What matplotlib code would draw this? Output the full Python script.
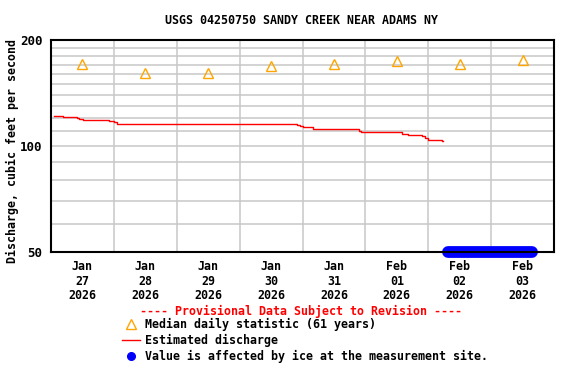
import matplotlib
matplotlib.use("Agg")
import matplotlib.pyplot as plt
from matplotlib.lines import Line2D
from matplotlib.ticker import FixedLocator, NullFormatter, NullLocator
import numpy as np

# ---- data ----
title = "USGS 04250750 SANDY CREEK NEAR ADAMS NY"
day_labels = ["Jan\n27\n2026", "Jan\n28\n2026", "Jan\n29\n2026", "Jan\n30\n2026",
              "Jan\n31\n2026", "Feb\n01\n2026", "Feb\n02\n2026", "Feb\n03\n2026"]
# median daily statistic (one per day, plotted at noon)
median_days = [0.5, 1.5, 2.5, 3.5, 4.5, 5.5, 6.5, 7.5]
median_vals = [171, 161, 161, 169, 171, 174, 171, 176]
# estimated discharge (days since Jan 27 00:00, cfs)
q_days = [0.05, 0.10, 0.19, 0.41, 0.45, 0.51, 0.93, 1.00, 1.05, 3.91, 3.96, 4.01,
          4.17, 4.83, 4.90, 4.93, 5.34, 5.58, 5.67, 5.90, 5.95, 6.00, 6.16, 6.22, 6.24]
q_vals = [122, 121.5, 120.7, 120, 119.4, 118.5, 118, 117, 115.7, 115, 114, 113,
          112, 111.5, 110.5, 109.8, 109.3, 108, 107.2, 106.5, 105.5, 104.2, 103.7, 103, 103]
# ice-affected period
ice_days = [6.31, 7.65]
ice_vals = [50, 50]
y_ticks = [50, 100, 200]
y_grid = [60, 70, 80, 90, 100, 110, 120, 130, 140, 150, 160, 170, 180, 190]

FONT = "DejaVu Sans Mono"
FS = 8.4

fig = plt.figure(figsize=(5.76, 3.84), dpi=100)
ax = fig.add_axes([51/576, 1-252/384, 503/576, 212/384])
ax.set_yscale("log")
ax.set_xlim(0, 8)
ax.set_ylim(50, 200)

# grid
for yg in y_grid:
    ax.axhline(yg, color="#c8c8c8", lw=1.1, zorder=1)
for xg in range(1, 8):
    ax.axvline(xg, color="#c8c8c8", lw=1.1, zorder=1)

ax.plot(q_days, q_vals, color="red", lw=1.0, drawstyle="steps-post", zorder=3)
ax.plot(median_days, median_vals, linestyle="none", marker="^", ms=7,
        mfc="none", mec="orange", mew=1.0, zorder=4)
ax.plot(ice_days, ice_vals, color="blue", lw=8.5, solid_capstyle="round",
        zorder=5, clip_on=False)

ax.yaxis.set_major_locator(FixedLocator(y_ticks))
ax.yaxis.set_minor_locator(NullLocator())
ax.yaxis.set_minor_formatter(NullFormatter())
ax.set_yticklabels([str(v) for v in y_ticks], fontfamily=FONT, fontweight="bold", fontsize=9)
ax.set_xticks(median_days)
ax.set_xticklabels(day_labels, fontfamily=FONT, fontweight="bold", fontsize=FS,
                   linespacing=1.15)
ax.tick_params(axis="both", length=0, pad=6)
for s in ax.spines.values():
    s.set_linewidth(1.5)
    s.set_zorder(6)

fig.text(301.5/576, 1-20/384, title, ha="center", va="center", fontfamily=FONT,
         fontweight="bold", fontsize=FS)
fig.text(12/576, 1-151/384, "Discharge, cubic feet per second", rotation=90,
         ha="center", va="center", fontfamily=FONT, fontweight="bold", fontsize=FS)

# legend block
fig.text(301/576, 1-311/384, "---- Provisional Data Subject to Revision ----",
         ha="center", va="center", color="red", fontfamily=FONT, fontweight="bold", fontsize=FS)
items = [("Median daily statistic (61 years)", 324),
         ("Estimated discharge", 340),
         ("Value is affected by ice at the measurement site.", 356)]
for txt, yp in items:
    fig.text(145/576, 1-yp/384, txt, ha="left", va="center", fontfamily=FONT,
             fontweight="bold", fontsize=FS)
fig.add_artist(Line2D([131/576], [1-324/384], transform=fig.transFigure, marker="^",
                      ms=7, mfc="none", mec="orange", mew=1.0, linestyle="none"))
fig.add_artist(Line2D([122/576, 140/576], [1-340/384, 1-340/384], transform=fig.transFigure,
                      color="red", lw=1.0))
fig.add_artist(Line2D([131/576], [1-356/384], transform=fig.transFigure, marker="o",
                      ms=5.5, color="blue", linestyle="none"))

fig.savefig("out.png", dpi=100)
